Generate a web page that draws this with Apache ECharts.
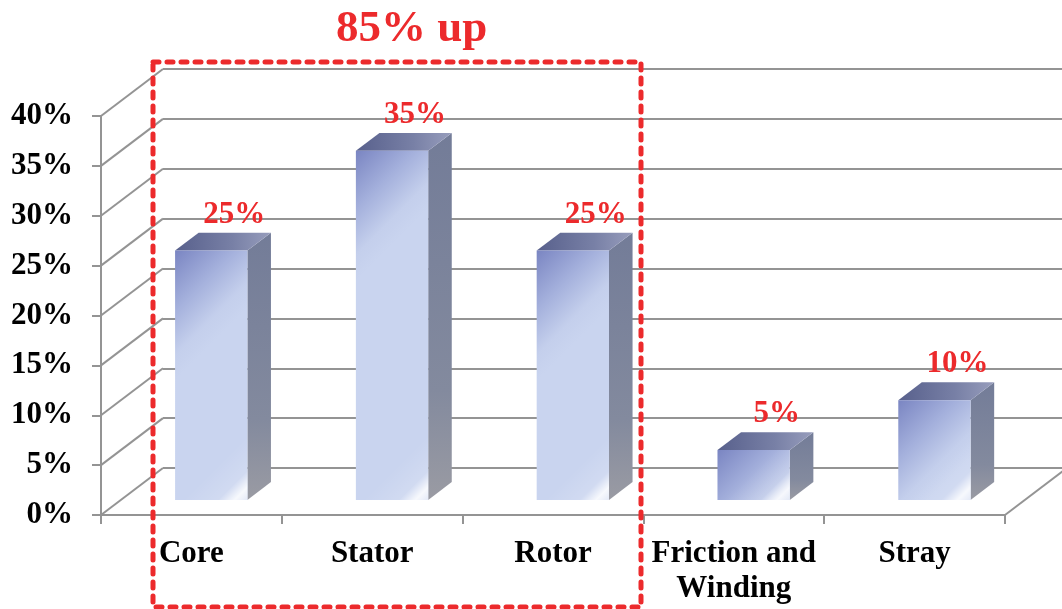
<!DOCTYPE html>
<html>
<head>
<meta charset="utf-8">
<script src="https://cdn.jsdelivr.net/npm/echarts@6/dist/echarts.min.js"></script>
<style>
html,body{margin:0;padding:0;background:#fff;}
#chart{width:1062px;height:609px;}
</style>
</head>
<body>
<div id="chart"></div>
<script>
// ---- data ----
const categories = ['Core', 'Stator', 'Rotor', 'Friction and\nWinding', 'Stray'];
const lossShare = [25, 35, 25, 5, 10];
const yTicks = [0, 5, 10, 15, 20, 25, 30, 35, 40];
const titleText = '85% up';

// ---- style constants ----
const FONT = "'Liberation Serif', 'Times New Roman', serif";
const RED = '#ec2a2c';
const GRID_COLOR = '#949494';
const DX = 62, DY = -47;      // depth of the 3D box
const D0 = 0.32, D1 = 0.70;   // bar position within depth
const BAR_W = 0.4;            // bar width share of a category

const chart = echarts.init(document.getElementById('chart'), null, {renderer: 'canvas'});

const frontGrid = {left: 101, right: 57, top: 116, bottom: 94};
const backGrid = {left: 101 + DX, right: 57 - DX, top: 116 + DY, bottom: 94 - DY};

const option = {
  backgroundColor: '#ffffff',
  animation: false,
  title: {
    text: titleText,
    left: 331, top: 2,
    textStyle: {fontFamily: FONT, fontWeight: 'bold', fontSize: 45, color: RED}
  },
  grid: [
    Object.assign({containLabel: false}, frontGrid),
    Object.assign({containLabel: false}, backGrid)
  ],
  xAxis: [
    {
      type: 'category', gridIndex: 0, data: categories, boundaryGap: true,
      axisLine: {show: true, lineStyle: {color: GRID_COLOR, width: 2}},
      axisTick: {show: true, length: 9, lineStyle: {color: GRID_COLOR, width: 2}},
      axisLabel: {interval: 0, margin: 21, fontFamily: FONT, fontWeight: 'bold', fontSize: 31, color: '#000', lineHeight: 35},
      splitLine: {show: false}
    },
    {
      type: 'category', gridIndex: 1, data: categories, show: false
    }
  ],
  yAxis: [
    {
      type: 'value', gridIndex: 0, min: 0, max: 40, interval: 5,
      axisLine: {show: true, lineStyle: {color: GRID_COLOR, width: 2}},
      axisTick: {show: true, length: 9, lineStyle: {color: GRID_COLOR, width: 2}},
      axisLabel: {formatter: '{value}%', margin: 28, fontFamily: FONT, fontWeight: 'bold', fontSize: 31, color: '#000'},
      splitLine: {show: false}
    },
    {
      type: 'value', gridIndex: 1, min: 0, max: 40, interval: 5,
      axisLine: {show: false}, axisTick: {show: false}, axisLabel: {show: false},
      splitLine: {show: true, lineStyle: {color: GRID_COLOR, width: 2}}
    }
  ],
  graphic: [
    {
      type: 'rect', z: 100,
      shape: {x: 153, y: 62, width: 488, height: 545},
      style: {fill: 'none', stroke: RED, lineWidth: 5, lineDash: [6, 8], lineCap: 'round'}
    }
  ],
  series: [
    {
      // side wall diagonals and floor right edge
      type: 'custom', xAxisIndex: 0, yAxisIndex: 0, z: 2,
      data: yTicks.map(v => [0, v]),
      renderItem: function (params, api) {
        const p = api.coord([0, api.value(1)]);
        const cs = params.coordSys;
        const x = cs.x;
        const children = [{
          type: 'line',
          shape: {x1: x, y1: p[1], x2: x + DX, y2: p[1] + DY},
          style: {stroke: GRID_COLOR, lineWidth: 2}
        }];
        if (api.value(1) === 0) {
          children.push({
            type: 'line',
            shape: {x1: x + cs.width, y1: p[1], x2: x + cs.width + DX, y2: p[1] + DY},
            style: {stroke: GRID_COLOR, lineWidth: 2}
          });
        }
        return {type: 'group', children: children};
      }
    },
    {
      type: 'custom', xAxisIndex: 0, yAxisIndex: 0, z: 5,
      data: lossShare.map((v, i) => [i, v]),
      renderItem: function (params, api) {
        const i = api.value(0), v = api.value(1);
        const c0 = api.coord([i, 0]);
        const c1 = api.coord([i, v]);
        const bw = api.size([1, 0])[0] * BAR_W;
        const x0 = c0[0] - bw / 2 + DX * D0;
        const x1 = x0 + bw;
        const yb = c0[1] + DY * D0;
        const yt = c1[1] + DY * D0;
        const ox = DX * (D1 - D0), oy = DY * (D1 - D0);
        const hl = bw * 0.45;
        return {
          type: 'group',
          children: [
            {
              type: 'polygon',
              shape: {points: [[x1, yt], [x1 + ox, yt + oy], [x1 + ox, yb + oy], [x1, yb]]},
              style: {fill: new echarts.graphic.LinearGradient(0, 0, 0, 1, [
                {offset: 0, color: '#737c98'},
                {offset: 0.7, color: '#838a9e'},
                {offset: 1, color: '#9a9ba3'}
              ])}
            },
            {
              type: 'polygon',
              shape: {points: [[x0, yt], [x1, yt], [x1 + ox, yt + oy], [x0 + ox, yt + oy]]},
              style: {fill: new echarts.graphic.LinearGradient(0, 0, 1, 0, [
                {offset: 0, color: '#58608c'},
                {offset: 0.6, color: '#7880a6'},
                {offset: 1, color: '#979dbc'}
              ])}
            },
            {
              type: 'rect',
              shape: {x: x0, y: yt, width: bw, height: yb - yt},
              style: {fill: new echarts.graphic.LinearGradient(x0, yt, x0 + bw * 0.9, yt + bw * 0.9, [
                {offset: 0, color: '#7a85c2'},
                {offset: 0.45, color: '#a4b0dc'},
                {offset: 0.8, color: '#c4cfec'},
                {offset: 1, color: '#c9d4ef'}
              ], true)}
            },
            {
              type: 'rect',
              shape: {x: x0, y: yt, width: bw, height: yb - yt},
              style: {fill: new echarts.graphic.LinearGradient(x1 - hl, yb - hl, x1, yb, [
                {offset: 0, color: 'rgba(255,255,255,0)'},
                {offset: 0.55, color: 'rgba(255,255,255,0.15)'},
                {offset: 0.8, color: 'rgba(255,255,255,0.85)'},
                {offset: 1, color: 'rgba(255,255,255,0.5)'}
              ], true)}
            },
            {
              type: 'text',
              style: {
                x: x0 + bw / 2 + 23, y: yt - 36,
                text: v + '%', align: 'center', verticalAlign: 'middle',
                fill: RED, font: 'bold 31px ' + FONT
              }
            }
          ]
        };
      }
    }
  ]
};
chart.setOption(option);
</script>
</body>
</html>
